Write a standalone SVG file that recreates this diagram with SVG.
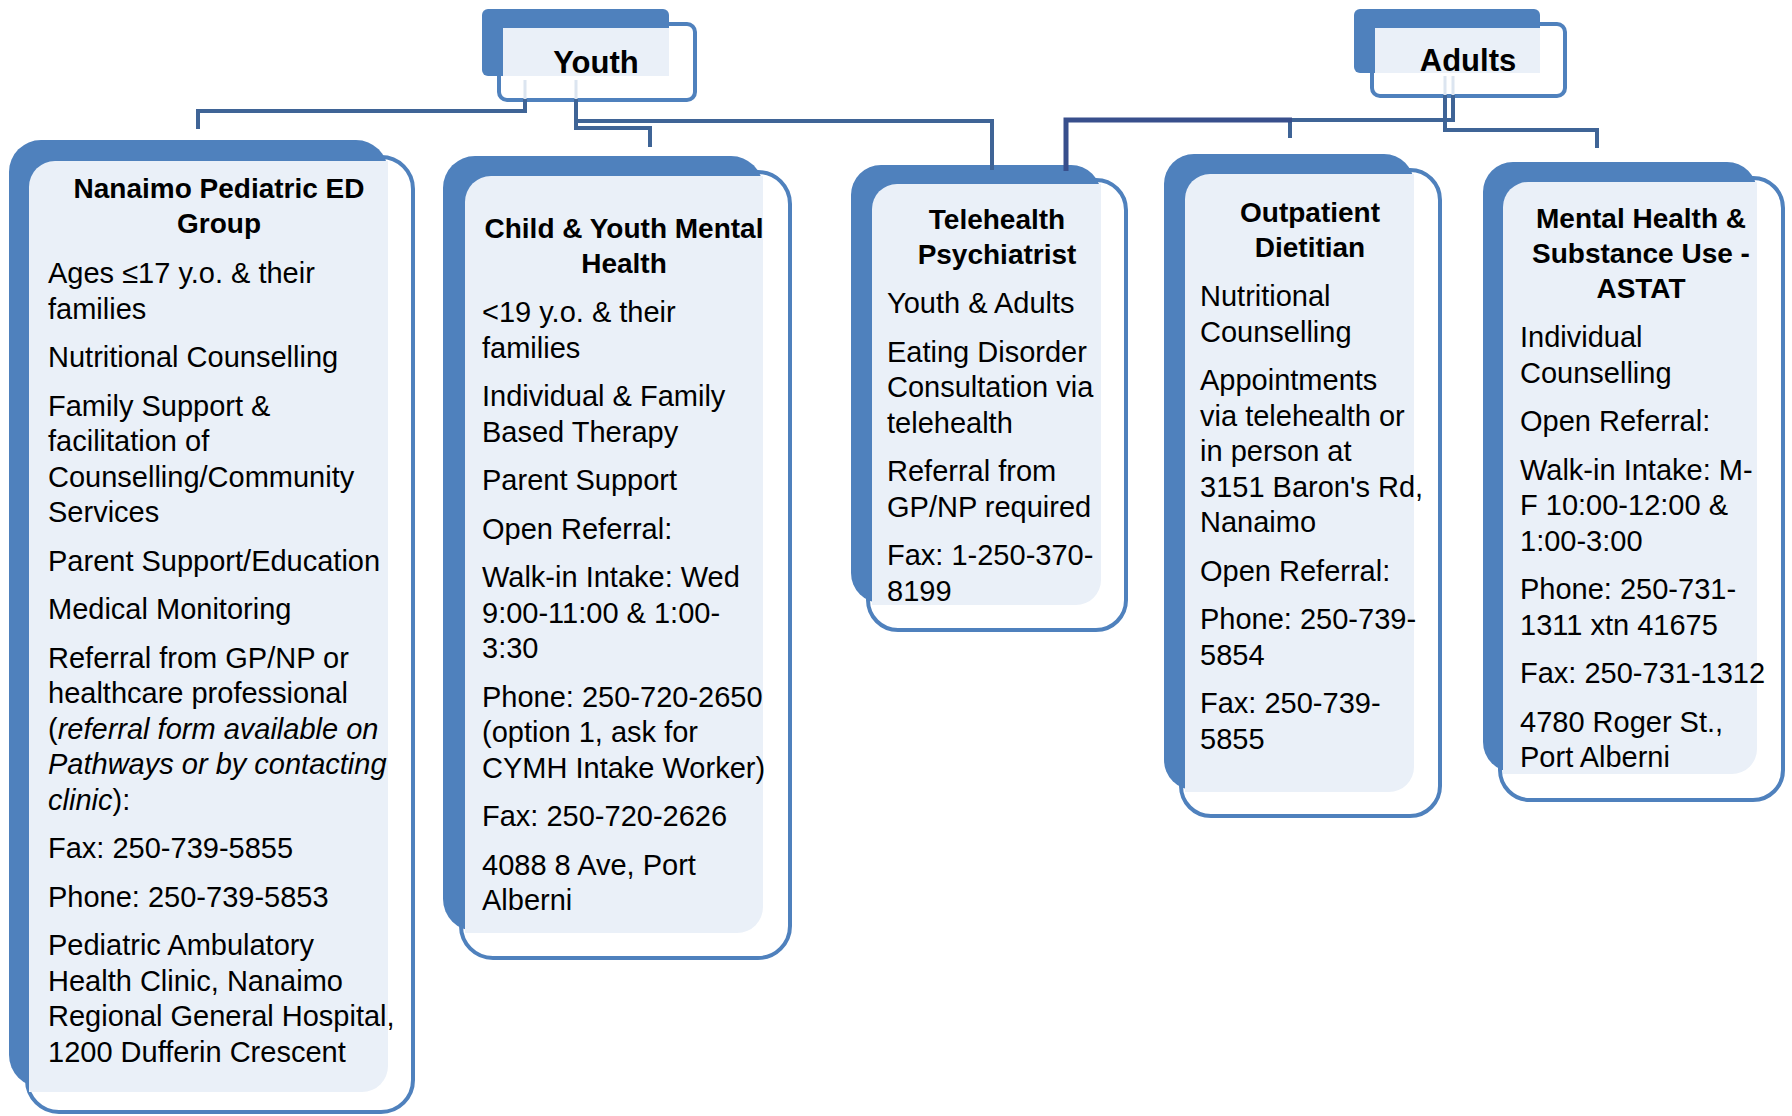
<svg xmlns="http://www.w3.org/2000/svg" width="1792" height="1116" viewBox="0 0 1792 1116">
<style>
.back{fill:#4F81BD}
.outline{fill:#FFFFFF;stroke:#4F81BD;stroke-width:4}
.panel{fill:#EAF0F8}
.t{font-family:"Liberation Sans",Arial,sans-serif;font-size:29px;fill:#000}
.h{font-family:"Liberation Sans",Arial,sans-serif;font-size:28px;font-weight:bold;fill:#000;text-anchor:middle}
.top{font-family:"Liberation Sans",Arial,sans-serif;font-size:31px;font-weight:bold;fill:#000;text-anchor:middle}
.c{fill:none;stroke:#3F6496;stroke-width:4}
.cd{fill:none;stroke:#384F8C;stroke-width:5}
.cp{fill:none;stroke:#DCE5F0;stroke-width:3}
</style>

<g id="youth">
  <rect class="outline" x="499" y="24" width="196" height="76" rx="8"/>
  <rect class="back" x="482" y="9" width="187" height="67" rx="6"/>
  <rect class="panel" x="503" y="28" width="166" height="48"/>
  <text class="top" x="596" y="73">Youth</text>
</g>

<g id="adults">
  <rect class="outline" x="1372" y="24" width="193" height="72" rx="8"/>
  <rect class="back" x="1354" y="9" width="186" height="64" rx="6"/>
  <rect class="panel" x="1375" y="28" width="165" height="45"/>
  <text class="top" x="1468" y="71">Adults</text>
</g>

<g id="nanaimo">
  <rect class="outline" x="27" y="157" width="386" height="955" rx="32"/>
  <rect class="back" x="9" y="140" width="379" height="947" rx="32"/>
  <path class="panel" d="M29,187 A26,26 0 0 1 55,161 H388 V1066 A26,26 0 0 1 362,1092 H29 Z"/>
  <text class="h" x="219" y="198">Nanaimo Pediatric ED</text>
  <text class="h" x="219" y="233">Group</text>
  <text class="t" x="48" y="283">Ages ≤17 y.o. &amp; their</text>
  <text class="t" x="48" y="318.5">families</text>
  <text class="t" x="48" y="367">Nutritional Counselling</text>
  <text class="t" x="48" y="415.5">Family Support &amp;</text>
  <text class="t" x="48" y="451">facilitation of</text>
  <text class="t" x="48" y="486.5">Counselling/Community</text>
  <text class="t" x="48" y="522">Services</text>
  <text class="t" x="48" y="570.5">Parent Support/Education</text>
  <text class="t" x="48" y="619">Medical Monitoring</text>
  <text class="t" x="48" y="667.5">Referral from GP/NP or</text>
  <text class="t" x="48" y="703">healthcare professional</text>
  <text class="t" x="48" y="738.5">(<tspan font-style="italic">referral form available on</tspan></text>
  <text class="t" x="48" y="774" font-style="italic">Pathways or by contacting</text>
  <text class="t" x="48" y="809.5"><tspan font-style="italic">clinic</tspan>):</text>
  <text class="t" x="48" y="858">Fax: 250-739-5855</text>
  <text class="t" x="48" y="906.5">Phone: 250-739-5853</text>
  <text class="t" x="48" y="955">Pediatric Ambulatory</text>
  <text class="t" x="48" y="990.5">Health Clinic, Nanaimo</text>
  <text class="t" x="48" y="1026">Regional General Hospital,</text>
  <text class="t" x="48" y="1061.5">1200 Dufferin Crescent</text>
</g>

<g id="cymh">
  <rect class="outline" x="461" y="172" width="329" height="786" rx="32"/>
  <rect class="back" x="443" y="156" width="320" height="775" rx="32"/>
  <path class="panel" d="M465,202 A26,26 0 0 1 491,176 H763 V907 A26,26 0 0 1 737,933 H465 Z"/>
  <text class="h" x="624" y="238">Child &amp; Youth Mental</text>
  <text class="h" x="624" y="273">Health</text>
  <text class="t" x="482" y="322">&lt;19 y.o. &amp; their</text>
  <text class="t" x="482" y="357.5">families</text>
  <text class="t" x="482" y="406">Individual &amp; Family</text>
  <text class="t" x="482" y="441.5">Based Therapy</text>
  <text class="t" x="482" y="490">Parent Support</text>
  <text class="t" x="482" y="538.5">Open Referral:</text>
  <text class="t" x="482" y="587">Walk-in Intake: Wed</text>
  <text class="t" x="482" y="622.5">9:00-11:00 &amp; 1:00-</text>
  <text class="t" x="482" y="658">3:30</text>
  <text class="t" x="482" y="706.5">Phone: 250-720-2650</text>
  <text class="t" x="482" y="742">(option 1, ask for</text>
  <text class="t" x="482" y="777.5">CYMH Intake Worker)</text>
  <text class="t" x="482" y="826">Fax: 250-720-2626</text>
  <text class="t" x="482" y="874.5">4088 8 Ave, Port</text>
  <text class="t" x="482" y="910">Alberni</text>
</g>

<g id="telehealth">
  <rect class="outline" x="868" y="180" width="258" height="450" rx="30"/>
  <rect class="back" x="851" y="165" width="250" height="438" rx="30"/>
  <path class="panel" d="M872,209 A25,25 0 0 1 897,184 H1101 V580 A25,25 0 0 1 1076,605 H872 Z"/>
  <text class="h" x="997" y="229">Telehealth</text>
  <text class="h" x="997" y="264">Psychiatrist</text>
  <text class="t" x="887" y="313">Youth &amp; Adults</text>
  <text class="t" x="887" y="361.5">Eating Disorder</text>
  <text class="t" x="887" y="397">Consultation via</text>
  <text class="t" x="887" y="432.5">telehealth</text>
  <text class="t" x="887" y="481">Referral from</text>
  <text class="t" x="887" y="516.5">GP/NP required</text>
  <text class="t" x="887" y="565">Fax: 1-250-370-</text>
  <text class="t" x="887" y="600.5">8199</text>
</g>

<g id="dietitian">
  <rect class="outline" x="1181" y="170" width="259" height="646" rx="30"/>
  <rect class="back" x="1164" y="154" width="250" height="636" rx="30"/>
  <path class="panel" d="M1185,199 A25,25 0 0 1 1210,174 H1414 V767 A25,25 0 0 1 1389,792 H1185 Z"/>
  <text class="h" x="1310" y="222">Outpatient</text>
  <text class="h" x="1310" y="257">Dietitian</text>
  <text class="t" x="1200" y="306">Nutritional</text>
  <text class="t" x="1200" y="341.5">Counselling</text>
  <text class="t" x="1200" y="390">Appointments</text>
  <text class="t" x="1200" y="425.5">via telehealth or</text>
  <text class="t" x="1200" y="461">in person at</text>
  <text class="t" x="1200" y="496.5">3151 Baron's Rd,</text>
  <text class="t" x="1200" y="532">Nanaimo</text>
  <text class="t" x="1200" y="580.5">Open Referral:</text>
  <text class="t" x="1200" y="629">Phone: 250-739-</text>
  <text class="t" x="1200" y="664.5">5854</text>
  <text class="t" x="1200" y="713">Fax: 250-739-</text>
  <text class="t" x="1200" y="748.5">5855</text>
</g>

<g id="mhsu">
  <rect class="outline" x="1500" y="178" width="283" height="622" rx="30"/>
  <rect class="back" x="1483" y="162" width="274" height="610" rx="30"/>
  <path class="panel" d="M1503,207 A25,25 0 0 1 1528,182 H1757 V749 A25,25 0 0 1 1732,774 H1503 Z"/>
  <text class="h" x="1641" y="228">Mental Health &amp;</text>
  <text class="h" x="1641" y="263">Substance Use -</text>
  <text class="h" x="1641" y="298">ASTAT</text>
  <text class="t" x="1520" y="347">Individual</text>
  <text class="t" x="1520" y="382.5">Counselling</text>
  <text class="t" x="1520" y="431">Open Referral:</text>
  <text class="t" x="1520" y="479.5">Walk-in Intake: M-</text>
  <text class="t" x="1520" y="515">F 10:00-12:00 &amp;</text>
  <text class="t" x="1520" y="550.5">1:00-3:00</text>
  <text class="t" x="1520" y="599">Phone: 250-731-</text>
  <text class="t" x="1520" y="634.5">1311 xtn 41675</text>
  <text class="t" x="1520" y="683">Fax: 250-731-1312</text>
  <text class="t" x="1520" y="731.5">4780 Roger St.,</text>
  <text class="t" x="1520" y="767">Port Alberni</text>
</g>

<g id="connectors">
  <path class="cp" d="M525,80 V99 M576,80 V99 M1445,76 V95 M1453,76 V95"/>
  <path class="c" d="M525,99 V111 H198 V129"/>
  <path class="c" d="M576,99 V128 H650 V147"/>
  <path class="c" d="M576,121 H992 V170"/>
  <path class="c" d="M1453,95 V120 H1290 V138"/>
  <path class="cd" d="M1292,120 H1066 V171"/>
  <path class="c" d="M1445,95 V130 H1597 V148"/>
</g>
</svg>
